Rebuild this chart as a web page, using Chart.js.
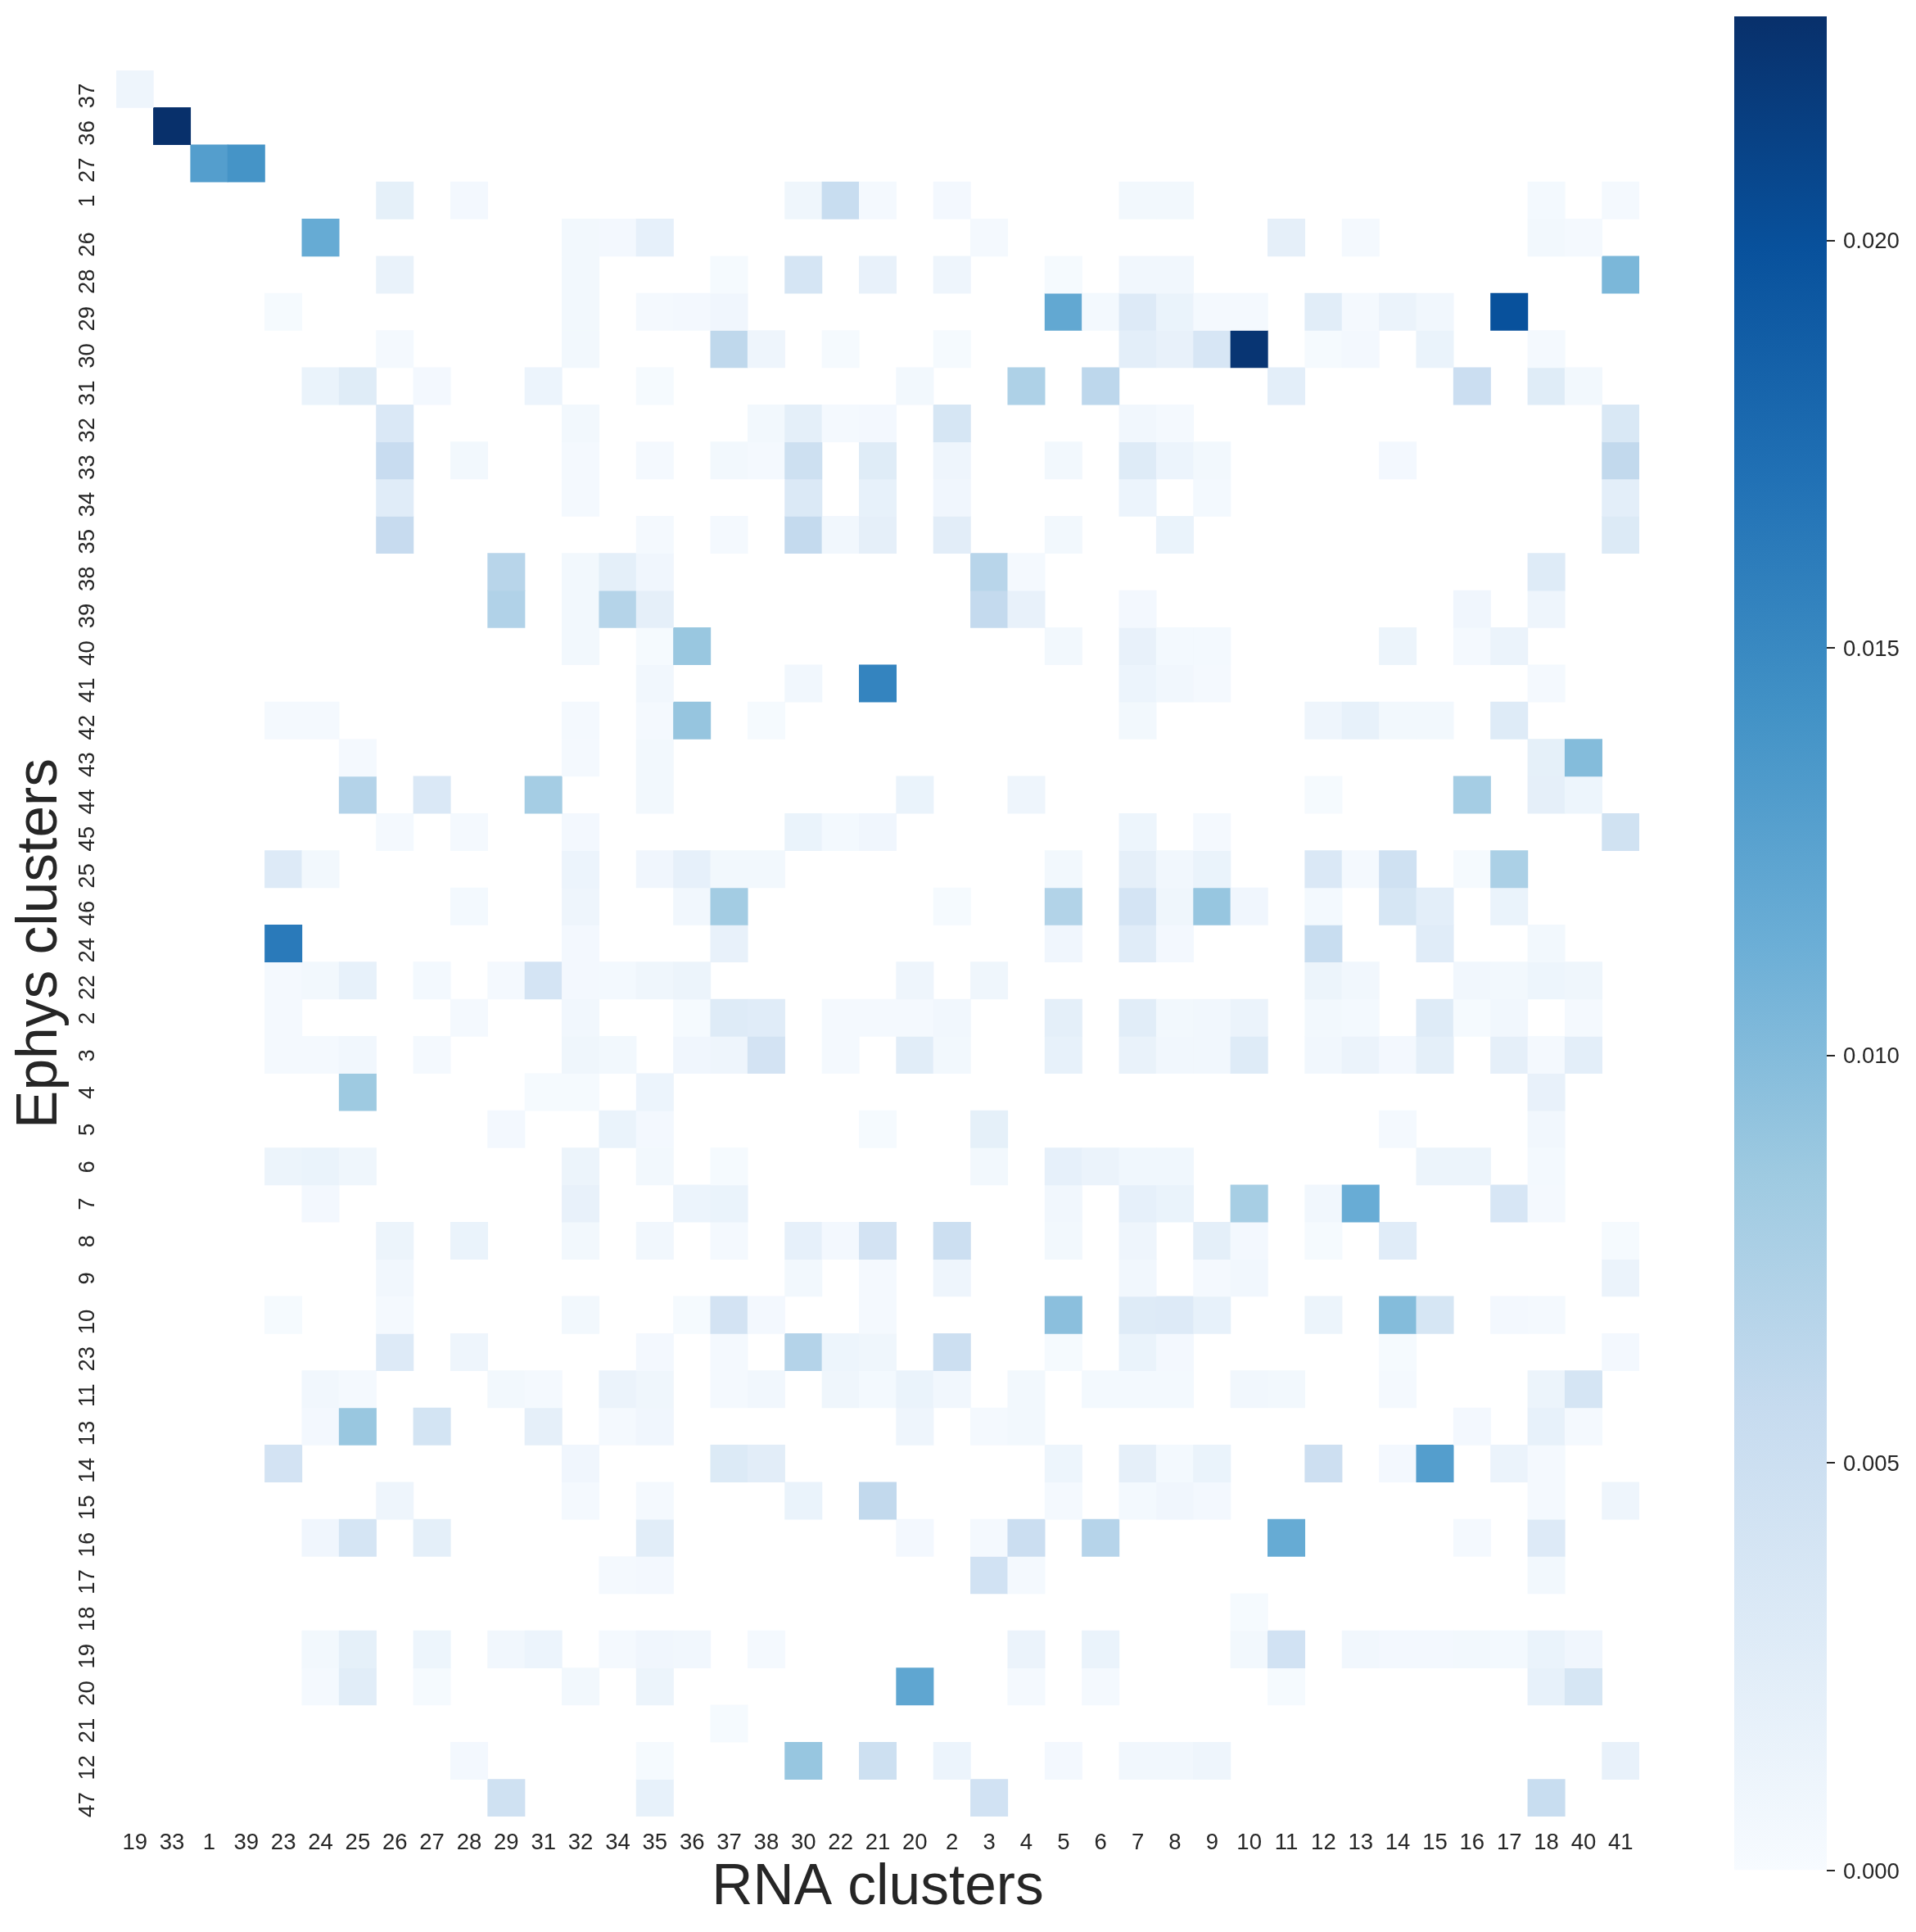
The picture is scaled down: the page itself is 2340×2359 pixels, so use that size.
<!DOCTYPE html>
<html>
<head>
<meta charset="utf-8">
<title>Ephys clusters vs RNA clusters</title>
<script src="https://cdn.jsdelivr.net/npm/chart.js@4"></script>
<style>
html,body{margin:0;padding:0;background:#fff;}
#wrap{position:relative;width:2340px;height:2359px;overflow:hidden;}
canvas{position:absolute;top:0;}
#heat{left:0;}
#bar{left:2118px;}
</style>
</head>
<body>
<div id="wrap">
<canvas id="heat" width="2340" height="2359"></canvas>
<canvas id="bar" width="222" height="2359"></canvas>
</div>
<script>
// Column and row labels
const rnaLabels = ["19","33","1","39","23","24","25","26","27","28","29","31","32","34","35","36","37","38","30","22","21","20","2","3","4","5","6","7","8","9","10","11","12","13","14","15","16","17","18","40","41"];
const ephysLabels = ["37","36","27","1","26","28","29","30","31","32","33","34","35","38","39","40","41","42","43","44","45","25","46","24","22","2","3","4","5","6","7","8","9","10","23","11","13","14","15","16","17","18","19","20","21","12","47"];

// Values in units of 0.001, one list per Ephys cluster, keyed by RNA cluster. Absent = no cell.
const ephys37 = {19:1.0};
const ephys36 = {33:22.8};
const ephys27 = {1:13,39:14};
const ephys1  = {26:2,28:.5,30:.9,22:5.4,21:.3,2:.5,7:.6,8:.6,18:.4,41:.3};
const ephys26 = {24:11.7,32:.6,34:.5,35:1.9,3:.3,11:2.1,13:.35,18:.55,40:.3};
const ephys28 = {26:1.6,32:.55,37:.25,30:3.9,21:1.7,2:1,5:.25,7:.65,8:.65,41:10.5};
const ephys29 = {23:.25,32:.55,35:.35,36:.5,37:.8,5:12,6:.4,7:3,8:1.5,9:.35,10:.35,12:2.5,13:.3,14:1.4,15:.65,17:19.9};
const ephys30 = {26:.3,32:.6,37:6.2,38:1,22:.25,2:.25,7:2.3,8:1.7,9:3.7,10:22.3,12:.25,13:.5,15:1.5,18:.3};
const ephys31 = {24:1.5,25:2.7,27:.5,31:1.2,35:.25,20:.55,4:7.4,6:6.3,11:2.3,16:5.1,18:2.7,40:.55};
const ephys32 = {26:3.3,32:.6,38:.55,30:2.2,22:.3,21:.5,2:3.8,7:.7,8:.3,41:3.4};
const ephys33 = {26:5.5,28:.6,32:.35,35:.3,37:.55,38:.35,30:4.8,21:2.7,2:1,5:.55,7:2.9,8:1.2,9:.6,14:.5,41:6};
const ephys34 = {26:2.6,32:.3,30:3.2,21:1.8,2:.85,7:1.2,9:.4,41:2.3};
const ephys35 = {26:5.6,35:.3,37:.3,30:5.8,22:.65,21:2.1,2:2.4,5:.55,8:1.5,41:3.1};
const ephys38 = {29:6.7,32:.55,34:2.2,35:.85,3:6.7,4:.35,18:2.8};
const ephys39 = {29:7.2,32:.55,34:6.9,35:2.1,3:5.8,4:1.7,7:.45,16:.8,18:1};
const ephys40 = {32:.6,35:.2,36:8.8,5:.55,7:1.7,8:.4,9:.4,14:1.3,16:.3,17:1.4};
const ephys41 = {35:.7,30:.65,21:15.4,7:1.2,8:.65,9:.35,18:.3};
const ephys42 = {23:.35,24:.35,32:.3,35:.3,36:9,38:.25,7:.55,12:1,13:1.8,14:.55,15:.6,17:2.9};
const ephys43 = {25:.3,32:.35,35:.55,18:2,40:10};
const ephys44 = {25:7,27:3.3,31:8,35:.55,20:1.5,4:1,12:.25,16:8,18:2.1,40:1.1};
const ephys45 = {26:.3,28:.3,32:.5,30:1.5,22:.4,21:.85,7:1.1,9:.3,41:4.5};
const ephys25 = {23:3,24:.6,32:1.2,35:.8,36:1.9,37:.55,38:.55,5:.6,7:2.1,8:.65,9:1.5,12:3.3,13:.3,14:4.6,16:.25,17:7.6};
const ephys46 = {28:.4,32:1,36:.7,37:8.2,2:.25,5:7.1,7:4,8:.9,9:8.9,10:.85,12:.4,14:3.8,15:2.3,17:1.5};
const ephys24 = {23:16.3,32:.5,37:1.7,5:.85,7:2.6,8:.45,12:5.4,15:2.6,18:.55};
const ephys22 = {23:.3,24:.6,25:1.8,27:.4,29:.3,31:4,32:.5,34:.4,35:.9,36:1.3,20:1,3:.9,12:1.3,13:.7,16:.7,17:.6,18:1.1,40:.9};
const ephys2  = {23:.3,28:.35,32:.65,36:.25,37:2.9,38:2.6,22:.35,21:.35,20:.35,2:.7,5:2.2,7:2.5,8:.6,9:.7,10:1.4,12:.55,13:.4,15:2.8,16:.25,17:.65,40:.3};
const ephys3  = {23:.35,24:.35,25:.65,27:.3,32:.9,34:.55,36:.85,37:1,38:4.2,22:.35,20:2.5,2:.6,5:1.8,7:1.6,8:.7,9:.7,10:2.8,12:.7,13:1.4,14:.5,15:2.2,17:2.1,18:.35,40:2.3};
const ephys4  = {25:8.5,31:.25,32:.25,35:1.2,18:1.7};
const ephys5  = {29:.5,34:1.5,35:.5,21:.2,3:2,14:.3,18:.65};
const ephys6  = {23:1.25,24:1.5,25:.9,32:1.25,35:.55,37:.25,3:.55,5:1.9,6:1.4,7:.75,8:.75,15:1.25,16:1.25,18:.4};
const ephys7  = {24:.5,32:1.7,36:1.2,37:1.5,5:.65,7:1.9,8:1.5,10:7.9,12:.65,13:11.6,17:3.7,18:.35};
const ephys8  = {26:1.3,28:1.5,32:.55,35:.7,37:.3,30:1.9,22:.5,21:4.2,2:5,5:.55,7:1,9:2.2,10:.45,12:.25,14:2.6,41:.25};
const ephys9  = {26:.65,30:.6,21:.3,2:1,7:.65,9:.3,10:.7,41:1.4};
const ephys10 = {23:.25,26:.35,32:.6,36:.25,37:4.2,38:.5,21:.3,5:9.6,7:2.8,8:3,9:1.8,12:1.3,14:10,15:3.8,17:.5,18:.35};
const ephys23 = {26:3,28:1,35:.5,37:.3,30:7,22:1.1,21:.9,2:5,5:.2,7:1.5,8:.45,14:.25,41:.5};
const ephys11 = {24:.65,25:.3,29:.55,31:.3,34:1.4,35:.9,37:.3,38:.65,22:.9,21:.4,20:1.5,2:.65,4:.55,6:.4,7:.4,8:.4,10:.65,11:.6,14:.3,18:1.3,40:3.9};
const ephys13 = {24:.5,25:8.8,27:4.1,31:2.1,34:.3,35:.85,20:1,3:.3,4:.55,16:.5,18:1.8,40:.3};
const ephys14 = {23:4.2,32:.85,37:3.1,38:2.4,5:1.1,7:2.1,8:.4,9:1.5,12:4.9,14:.5,15:13,17:1.4,18:.3};
const ephys15 = {26:1,32:.3,35:.3,30:1.5,21:6,5:.3,7:.4,8:.8,9:.45,18:.3,41:1};
const ephys16 = {24:.85,25:3.9,27:2.2,35:2.5,20:.5,3:.3,4:5.1,6:6.8,11:11.7,16:.3,18:3};
const ephys17 = {34:.35,35:.5,3:4.4,4:.3,18:.6};
const ephys18 = {10:.25};
const ephys19 = {24:.55,25:2,27:1.1,29:.7,31:1.2,34:.35,35:.85,36:.65,38:.3,4:1.4,6:1.5,10:.55,11:4.4,13:.65,14:.5,15:.5,16:.6,17:.4,18:1.5,40:.85};
const ephys20 = {24:.3,25:2.5,27:.25,32:.55,35:1.3,20:12.2,4:.35,6:.3,11:.25,18:1.8,40:3.8};
const ephys21 = {37:.2};
const ephys12 = {28:.5,35:.25,30:8.9,21:4.8,2:1.2,5:.5,7:.65,8:.65,9:1,41:1.7};
const ephys47 = {29:4.6,35:1.8,3:4.4,18:5.4};

const ephysRows = [ephys37,ephys36,ephys27,ephys1,ephys26,ephys28,ephys29,ephys30,ephys31,ephys32,ephys33,ephys34,ephys35,ephys38,ephys39,ephys40,ephys41,ephys42,ephys43,ephys44,ephys45,ephys25,ephys46,ephys24,ephys22,ephys2,ephys3,ephys4,ephys5,ephys6,ephys7,ephys8,ephys9,ephys10,ephys23,ephys11,ephys13,ephys14,ephys15,ephys16,ephys17,ephys18,ephys19,ephys20,ephys21,ephys12,ephys47];

const colorbarTicks = [0, 0.005, 0.010, 0.015, 0.020];
const vmax = 0.02275;
const valueUnit = 0.001;

// Matplotlib "Blues"
const blues = ["#f7fbff","#deebf7","#c6dbef","#9ecae1","#6baed6","#4292c6","#2171b5","#08519c","#08306b"];
const hex = h => [1,3,5].map(i => parseInt(h.slice(i,i+2),16));
function blueFor(v){
  const t = Math.min(1, Math.max(0, v / vmax)) * (blues.length - 1);
  const i = Math.min(blues.length - 2, Math.floor(t));
  const a = hex(blues[i]), b = hex(blues[i+1]), f = t - i;
  return `rgb(${a.map((c,k)=>Math.round(c+(b[k]-c)*f)).join(",")})`;
}

const INK = "#262626";
Chart.defaults.font.family = "'Liberation Sans', Arial, sans-serif";
Chart.defaults.color = INK;

const heatDatasets = ephysRows.map((row, r) => ({
  label: ephysLabels[r],
  data: rnaLabels.map(l => row[l] != null ? [r, r + 1] : null),
  backgroundColor: rnaLabels.map(l => row[l] != null ? blueFor(row[l] * valueUnit) : "rgba(0,0,0,0)"),
  borderWidth: 0,
  barPercentage: 1,
  categoryPercentage: 1,
  grouped: false
}));

new Chart(document.getElementById("heat"), {
  type: "bar",
  data: { labels: rnaLabels, datasets: heatDatasets },
  options: {
    responsive: false,
    animation: false,
    devicePixelRatio: 1,
    layout: { padding: { left: 0, top: 86, right: 338, bottom: 0 } },
    plugins: { legend: { display: false }, tooltip: { enabled: false } },
    scales: {
      x: {
        type: "category",
        grid: { display: false, drawTicks: false },
        border: { display: false },
        ticks: { autoSkip: false, minRotation: 0, maxRotation: 0, padding: 16, color: INK, font: { size: 27.5 } },
        title: { display: true, text: "RNA clusters", color: INK, font: { size: 69.5 }, padding: { top: 0, bottom: 11 } },
        afterFit(s) { s.height = 141; }
      },
      y: {
        type: "linear",
        min: 0,
        max: ephysLabels.length,
        reverse: true,
        grid: { display: false, drawTicks: false },
        border: { display: false },
        afterBuildTicks(s) { s.ticks = ephysLabels.map((_, i) => ({ value: i + 0.5 })); },
        ticks: {
          autoSkip: false, minRotation: 90, maxRotation: 90, crossAlign: "near", padding: 35, labelOffset: -7, color: INK,
          font: { size: 27.5 },
          callback: (v) => ephysLabels[Math.floor(v)]
        },
        title: { display: true, text: "Ephys clusters", color: INK, font: { size: 69.5 }, padding: { top: 8, bottom: 0 } },
        afterFit(s) { s.width = 142; }
      }
    }
  }
});

new Chart(document.getElementById("bar"), {
  type: "bar",
  data: {
    labels: [""],
    datasets: [{
      data: [[0, vmax]],
      borderWidth: 0,
      barPercentage: 1,
      categoryPercentage: 1,
      backgroundColor(c) {
        const chart = c.chart;
        if (!chart.chartArea) return blues[4];
        const y = chart.scales.y;
        const g = chart.ctx.createLinearGradient(0, y.getPixelForValue(0), 0, y.getPixelForValue(vmax));
        blues.forEach((col, i) => g.addColorStop(i / (blues.length - 1), col));
        return g;
      }
    }]
  },
  options: {
    responsive: false,
    animation: false,
    devicePixelRatio: 1,
    layout: { padding: { left: 0, top: 20, right: 0, bottom: 75 } },
    plugins: { legend: { display: false }, tooltip: { enabled: false } },
    scales: {
      x: { display: false },
      y: {
        position: "right",
        min: 0,
        max: vmax,
        border: { display: false },
        grid: { drawOnChartArea: false, drawTicks: true, tickLength: 10, color: INK, lineWidth: 2 },
        afterBuildTicks(s) { s.ticks = colorbarTicks.map(v => ({ value: v })); },
        ticks: { padding: 10, labelOffset: 2, color: INK, font: { size: 27.5 }, callback: v => v.toFixed(3) },
        afterFit(s) { s.width = 109; s.paddingTop = 0; s.paddingBottom = 0; }
      }
    }
  }
});
</script>
</body>
</html>
